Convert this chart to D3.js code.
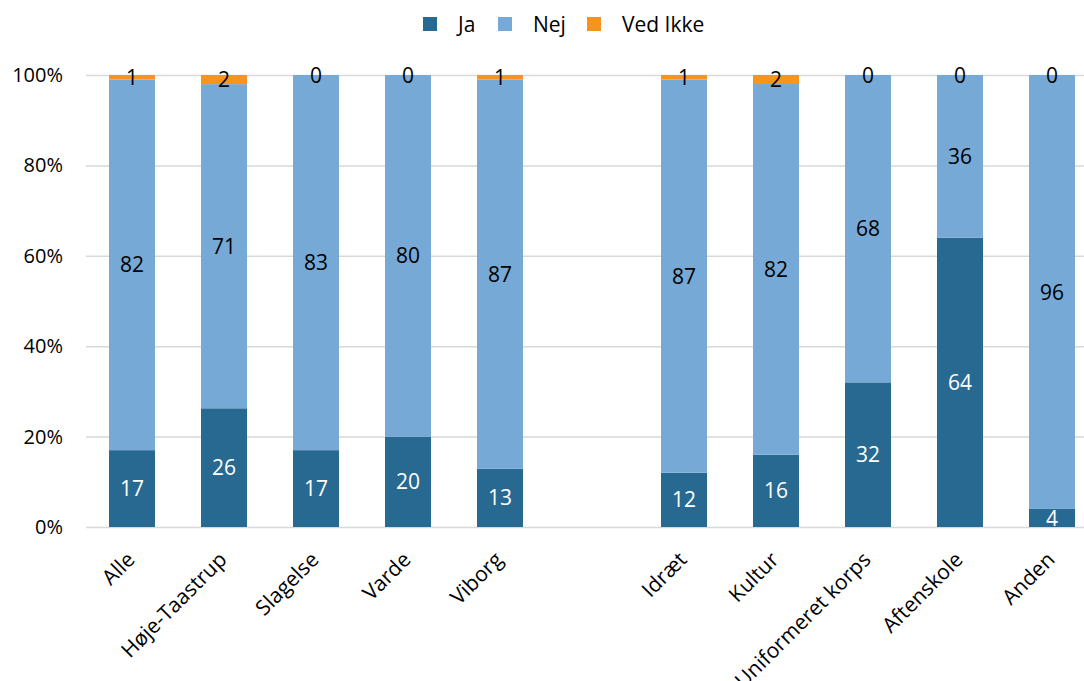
<!DOCTYPE html>
<html>
<head>
<meta charset="utf-8">
<script src="https://cdn.jsdelivr.net/npm/d3@7"></script>
<style>
  html, body { margin: 0; padding: 0; background: #fff; }
  svg { display: block; font-family: "Open Sans", sans-serif; }
</style>
</head>
<body>
<svg id="chart" width="1084" height="681"></svg>
<script>
const categories = ["Alle", "Høje-Taastrup", "Slagelse", "Varde", "Viborg", "", "Idræt", "Kultur", "Uniformeret korps", "Aftenskole", "Anden"];
const ja      = [17, 26, 17, 20, 13, null, 12, 16, 32, 64, 4];
const nej     = [82, 71, 83, 80, 87, null, 87, 82, 68, 36, 96];
const vedIkke = [1, 2, 0, 0, 1, null, 1, 2, 0, 0, 0];
const seriesNames = ["Ja", "Nej", "Ved Ikke"];
const colors = ["#276990", "#77a9d7", "#f7941d"];
const labelColors = ["#ffffff", "#000000", "#000000"];
const yTicks = [0, 0.2, 0.4, 0.6, 0.8, 1.0];

const svg = d3.select("#chart");
const margin = { left: 86, right: -14, top: 75, bottom: 154 };
const W = 1084, H = 681;

const rows = categories.map((c, i) => ({
  cat: c, i,
  "Ja": ja[i], "Nej": nej[i], "Ved Ikke": vedIkke[i],
  blank: ja[i] == null
}));

const x = d3.scaleBand()
  .domain(categories.map((c, i) => i))
  .range([margin.left, W - margin.right])
  .paddingInner(0.5)
  .paddingOuter(0.25);

const y = d3.scaleLinear().domain([0, 1]).range([H - margin.bottom, margin.top]);

const stack = d3.stack()
  .keys(seriesNames)
  .value((d, k) => d[k] || 0)
  .offset(d3.stackOffsetExpand);
const stacked = stack(rows.filter(r => !r.blank));

// gridlines + y tick labels
const yAxis = d3.axisLeft(y).tickValues(yTicks).tickFormat(d3.format(".0%")).tickSize(-(W - margin.left)).tickPadding(23);
const gy = svg.append("g").attr("transform", `translate(${margin.left},0)`).call(yAxis);
gy.select(".domain").remove();
gy.selectAll(".tick line").attr("stroke", "#d9d9d9").attr("stroke-width", 1.5);
gy.selectAll(".tick text").attr("font-size", 20).attr("fill", "#000").attr("font-family", "'Open Sans', sans-serif");

// bars
const layers = svg.append("g").selectAll("g").data(stacked).join("g")
  .attr("fill", (d, i) => colors[i]);
layers.selectAll("rect").data(d => d).join("rect")
  .attr("x", d => x(d.data.i))
  .attr("width", x.bandwidth())
  .attr("y", d => y(d[1]))
  .attr("height", d => Math.max(0, y(d[0]) - y(d[1])));

// data labels
const lab = svg.append("g").attr("font-size", 21).attr("text-anchor", "middle");
stacked.forEach((layer, si) => {
  lab.selectAll(null).data(layer).join("text")
    .attr("x", d => x(d.data.i) + x.bandwidth() / 2)
    .attr("y", d => (y(d[0]) + y(d[1])) / 2)
    .attr("dy", "0.36em")
    .attr("fill", labelColors[si])
    .text(d => d.data[layer.key]);
});

// x labels
const xl = svg.append("g").attr("font-size", 21);
xl.selectAll("text").data(rows.filter(r => !r.blank)).join("text")
  .attr("text-anchor", "end")
  .attr("transform", d => `translate(${x(d.i) + x.bandwidth() / 2 + 4},${H - margin.bottom + 34}) rotate(-45)`)
  .attr("fill", "#000")
  .text(d => d.cat);

// legend
const legendX = [423, 498, 587];
const lg = svg.append("g");
seriesNames.forEach((s, i) => {
  const g = lg.append("g").attr("transform", `translate(${legendX[i]},17)`);
  g.append("rect").attr("width", 14).attr("height", 14).attr("fill", colors[i]);
  g.append("text").attr("x", 35).attr("y", 7).attr("dy", "0.36em").attr("font-size", 21).attr("fill", "#000").text(s);
});
</script>
</body>
</html>
